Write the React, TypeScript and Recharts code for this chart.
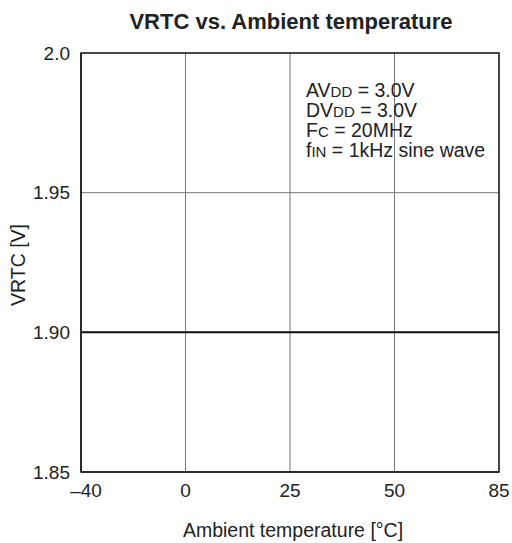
import React from 'react';
import {LineChart, Line, XAxis, YAxis, CartesianGrid, ReferenceArea, Customized} from 'recharts';

// ambient temperature steps (drawn evenly spaced, as in the datasheet plot)
const temps = ['-40', '0', '25', '50', '85'];
const tempLabels = ['\u201340', '0', '25', '50', '85'];
const vrtc = [1.9, 1.9, 1.9, 1.9, 1.9];

const yTicks = [1.85, 1.9, 1.95, 2.0];
const yTickLabels = ['1.85', '1.90', '1.95', '2.0'];

const data = temps.map((t, i) => ({t, v: vrtc[i]}));

const FONT = '"Liberation Sans", Arial, sans-serif';
const INK = '#222';

function TempTick(props: any) {
    const {x, y, payload, index} = props;
    const label = tempLabels[temps.indexOf(payload.value)] ?? payload.value;
    // the first label sits a little right of the corner in the original
    const dx = index === 0 ? 5 : 0;
    return (
        <text x={x + dx} y={y} dy="0.71em" textAnchor="middle" fontSize={19} fill={INK} fontFamily={FONT}>
            {label}
        </text>
    );
}

function Texts() {
    return (
        <g fontFamily={FONT} fill={INK}>
            <text x={291} y={29} textAnchor="middle" fontSize={22} fontWeight="bold">
                VRTC vs. Ambient temperature
            </text>
            <text x={293} y={537} textAnchor="middle" fontSize={19.5}>
                Ambient temperature [°C]
            </text>
            <text x={25} y={265} textAnchor="middle" fontSize={19.5} transform="rotate(-90 25 265)">
                VRTC [V]
            </text>
            <g fontSize={19.5}>
                <text x={306} y={97}>
                    <tspan>AV</tspan><tspan fontSize={15}>DD</tspan><tspan> = 3.0V</tspan>
                </text>
                <text x={306} y={117}>
                    <tspan>DV</tspan><tspan fontSize={15}>DD</tspan><tspan> = 3.0V</tspan>
                </text>
                <text x={306} y={137}>
                    <tspan>F</tspan><tspan fontSize={15}>C</tspan><tspan> = 20MHz</tspan>
                </text>
                <text x={306} y={157}>
                    <tspan>f</tspan><tspan fontSize={15}>IN</tspan><tspan> = 1kHz sine wave</tspan>
                </text>
            </g>
        </g>
    );
}

export default function App() {
    return (
        <div style={{position: 'absolute', left: 0, top: 0, background: '#fff'}}>
            <LineChart width={512} height={543} data={data}
                       margin={{top: 53, right: 13, bottom: 41, left: 21}}>
                <CartesianGrid stroke="#777" strokeWidth={1}/>
                <XAxis dataKey="t" type="category" interval={0} height={30}
                       tick={<TempTick/>}
                       tickLine={false} tickSize={0} tickMargin={12}
                       axisLine={{stroke: INK, strokeWidth: 1.5}}/>
                <YAxis type="number" domain={[1.85, 2.0]} ticks={yTicks} width={60} allowDataOverflow
                       tickFormatter={(v) => yTickLabels[yTicks.findIndex((y) => Math.abs(y - v) < 1e-6)] ?? String(v)}
                       tick={{fontSize: 19, fill: INK, fontFamily: FONT}}
                       tickLine={false} tickSize={0} tickMargin={11}
                       axisLine={{stroke: INK, strokeWidth: 1.5}}/>
                <ReferenceArea x1="-40" x2="85" y1={1.85} y2={2.0} fill="none" fillOpacity={0}
                               stroke={INK} strokeWidth={1.5}/>
                <Line type="linear" dataKey="v" stroke="#111" strokeWidth={2} dot={false}
                      isAnimationActive={false}/>
                <Customized component={Texts}/>
            </LineChart>
        </div>
    );
}
